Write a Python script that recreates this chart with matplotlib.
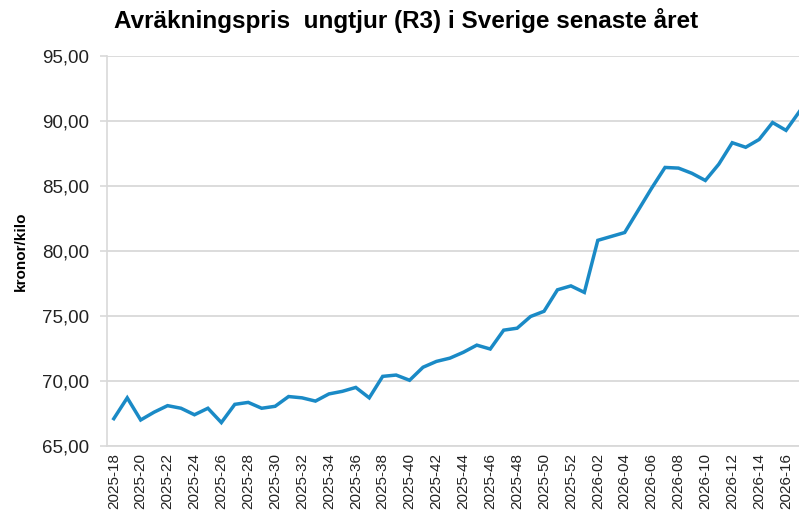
import matplotlib.pyplot as plt
from matplotlib.ticker import FuncFormatter

plt.rcParams['font.family'] = ['Liberation Sans', 'DejaVu Sans']

# veckor 2025-18 .. 2026-17
veckor = [f"2025-{w:02d}" for w in range(18, 53)] + [f"2026-{w:02d}" for w in range(1, 18)]

# avräkningspris kr/kg
pris = [67.1, 68.7, 67.0, 67.6, 68.1, 67.9, 67.4, 67.9, 66.8, 68.2,
        68.35, 67.9, 68.05, 68.8, 68.7, 68.45, 69.0, 69.2, 69.5, 68.7,
        70.35, 70.45, 70.05, 71.05, 71.5, 71.75, 72.2, 72.75, 72.45, 73.9,
        74.05, 74.95, 75.35, 77.0, 77.3, 76.8, 80.8, 81.1, 81.4, 83.1,
        84.8, 86.4, 86.35, 85.95, 85.4, 86.65, 88.3, 87.95, 88.55, 89.85,
        89.25, 90.7]

fig = plt.figure(figsize=(7.99, 5.13), dpi=100)
ax = fig.add_axes([0.134, 0.1306, 0.875, 0.7612])

x = range(len(pris))
ax.plot(x, pris, color='#1a8ac6', lw=2.5, solid_joinstyle='miter', zorder=3)

ax.set_xlim(-0.5, len(pris) - 0.5)
ax.set_ylim(65, 95)
ax.set_yticks(range(65, 96, 5))
ax.yaxis.set_major_formatter(FuncFormatter(lambda v, p: f"{v:.2f}".replace('.', ',')))
ax.set_xticks(list(x)[::2])
ax.set_xticklabels(veckor[::2], rotation=90, fontsize=11)
ax.tick_params(axis='y', labelsize=13.5, length=5, color='#d9d9d9', width=1.2, pad=8,
               labelcolor='#222222')
ax.tick_params(axis='x', length=0, pad=5, labelcolor='#222222')

ax.grid(axis='y', color='#d9d9d9', lw=1.3)
ax.set_axisbelow(True)
for s in ['top', 'right']:
    ax.spines[s].set_visible(False)
ax.spines['left'].set_color('#d9d9d9')
ax.spines['bottom'].set_color('#d9d9d9')
ax.spines['left'].set_linewidth(1.2)
ax.spines['bottom'].set_linewidth(1.3)

ax.set_ylabel('kronor/kilo', fontsize=11, fontweight='bold', labelpad=10)
fig.text(0.508, 0.961, 'Avräkningspris  ungtjur (R3) i Sverige senaste året',
         ha='center', va='center', fontsize=17.5, fontweight='bold')

fig.savefig('out.png', dpi=100)
